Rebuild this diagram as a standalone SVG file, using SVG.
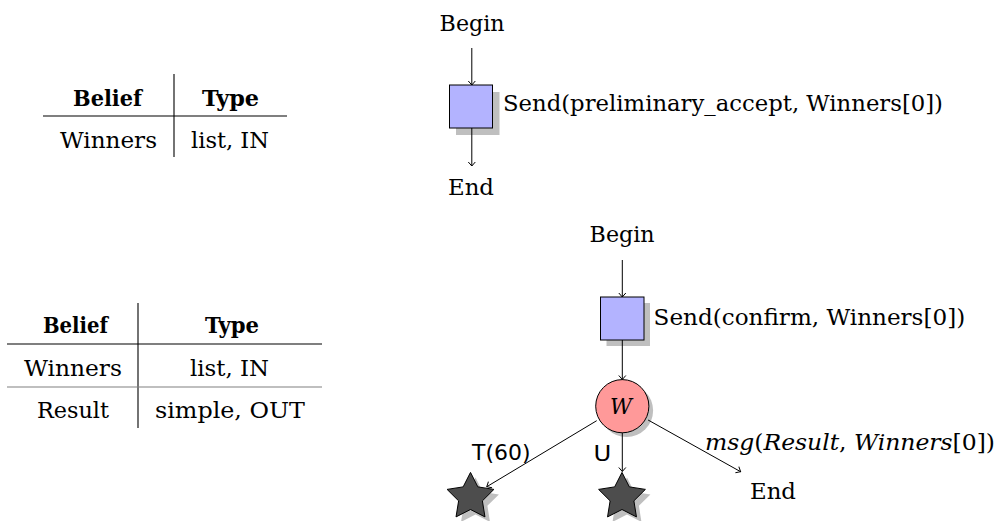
<svg xmlns="http://www.w3.org/2000/svg" xmlns:xlink="http://www.w3.org/1999/xlink" width="1003" height="521" viewBox="0 0 1003 521">
<style>
.t{font-family:"DejaVu Serif","Liberation Serif",serif;font-size:22.5px;fill:#000}
.b{font-weight:bold}
.m{font-family:"DejaVu Serif","Liberation Serif",serif;font-size:22.5px;fill:#000}
.i{font-style:italic}
.e{font-family:"DejaVu Sans","Liberation Sans",sans-serif;font-size:22px;fill:#000}
.rule{stroke:#000;stroke-width:1.1;fill:none}
.grule{stroke:#808080;stroke-width:1.1;fill:none}
.edge{stroke:#000;stroke-width:1;fill:none;marker-end:url(#arr)}
.sh{fill:#bfbfbf}
.box{fill:#b3b3ff;stroke:#000;stroke-width:1}
.circ{fill:#ff9999;stroke:#000;stroke-width:1}
.star{fill:#4d4d4d;stroke:#000;stroke-width:1}
</style>
<defs>
<marker id="arr" markerUnits="userSpaceOnUse" markerWidth="10" markerHeight="10" viewBox="-6 -5 8 10" refX="0" refY="0" orient="auto">
<path d="M-4,-3.5 L0,0 L-4,3.5" fill="none" stroke="#000" stroke-width="1"/>
</marker>
<path id="starp" d="M0,-24.6 L7.35,-10.11 L23.4,-7.6 L11.89,3.86 L14.46,19.9 L0,12.5 L-14.46,19.9 L-11.89,3.86 L-23.4,-7.6 L-7.35,-10.11 Z"/>
</defs>

<g id="table1">
<line class="rule" x1="174" y1="74" x2="174" y2="157"/>
<line class="rule" x1="43" y1="116" x2="287" y2="116"/>
<text class="t b" x="73" y="106" textLength="69" lengthAdjust="spacingAndGlyphs">Belief</text>
<text class="t b" x="202" y="106" textLength="57" lengthAdjust="spacingAndGlyphs">Type</text>
<text class="t" x="60" y="148" textLength="97" lengthAdjust="spacingAndGlyphs">Winners</text>
<text class="t" x="191" y="148" textLength="78" lengthAdjust="spacingAndGlyphs">list, IN</text>
</g>

<g id="table2">
<line class="rule" x1="138" y1="303" x2="138" y2="428"/>
<line class="rule" x1="7" y1="344" x2="322" y2="344"/>
<line class="grule" x1="7" y1="387" x2="322" y2="387"/>
<text class="t b" x="43" y="333" textLength="65" lengthAdjust="spacingAndGlyphs">Belief</text>
<text class="t b" x="205" y="333" textLength="54" lengthAdjust="spacingAndGlyphs">Type</text>
<text class="t" x="24" y="376" textLength="98" lengthAdjust="spacingAndGlyphs">Winners</text>
<text class="t" x="190" y="376" textLength="79" lengthAdjust="spacingAndGlyphs">list, IN</text>
<text class="t" x="37" y="418" textLength="72" lengthAdjust="spacingAndGlyphs">Result</text>
<text class="t" x="155" y="418" textLength="150" lengthAdjust="spacingAndGlyphs">simple, OUT</text>
</g>

<g id="begin1"><text class="t" x="439.6" y="31" textLength="65" lengthAdjust="spacingAndGlyphs">Begin</text></g>
<g id="send1">
<rect class="sh" x="456" y="92" width="43.5" height="43"/>
<rect class="box" x="449.5" y="85" width="43" height="43"/>
<text class="t" x="503" y="111" textLength="440" lengthAdjust="spacingAndGlyphs">Send(preliminary_accept, Winners[0])</text>
</g>
<g id="end1"><text class="t" x="448" y="195" textLength="46" lengthAdjust="spacingAndGlyphs">End</text></g>

<g id="begin2"><text class="t" x="589.6" y="242" textLength="65" lengthAdjust="spacingAndGlyphs">Begin</text></g>
<g id="send2">
<rect class="sh" x="606.5" y="303" width="43.5" height="43"/>
<rect class="box" x="600.5" y="297" width="43.5" height="43"/>
<text class="t" x="653.6" y="325" textLength="311.6" lengthAdjust="spacingAndGlyphs">Send(confirm, Winners[0])</text>
</g>
<g id="wait">
<circle class="sh" cx="626.5" cy="410.5" r="26.6"/>
<circle class="circ" cx="622.3" cy="406.2" r="26.6"/>
<text class="m i" x="621" y="413.5" text-anchor="middle" textLength="22" lengthAdjust="spacingAndGlyphs">W</text>
</g>
<g id="star1">
<use xlink:href="#starp" class="sh" transform="translate(475.5,502)"/>
<use xlink:href="#starp" class="star" transform="translate(470.5,497)"/>
</g>
<g id="star2">
<use xlink:href="#starp" class="sh" transform="translate(627,502)"/>
<use xlink:href="#starp" class="star" transform="translate(622,497)"/>
</g>
<g id="end2"><text class="t" x="750" y="499" textLength="46" lengthAdjust="spacingAndGlyphs">End</text></g>

<g id="connectors">
<line class="edge" x1="471.8" y1="48" x2="471.8" y2="85"/>
<line class="edge" x1="471.8" y1="128" x2="471.8" y2="166"/>
<line class="edge" x1="622.3" y1="260" x2="622.3" y2="297"/>
<line class="edge" x1="622.3" y1="340" x2="622.3" y2="379.5"/>
<line class="edge" x1="596.7" y1="420.7" x2="486.8" y2="486.7"/>
<line class="edge" x1="622.3" y1="432.8" x2="622.3" y2="471.5"/>
<line class="edge" x1="648.1" y1="420" x2="740.6" y2="471.7"/>
<text class="e" x="472" y="460" textLength="58.5" lengthAdjust="spacingAndGlyphs">T(60)</text>
<text class="e" x="593.5" y="461" textLength="17.8" lengthAdjust="spacingAndGlyphs">U</text>
<text class="m" x="705" y="450" textLength="290" lengthAdjust="spacingAndGlyphs"><tspan class="i">msg</tspan>(<tspan class="i">Result</tspan>, <tspan class="i">Winners</tspan>[0])</text>
</g>
</svg>
